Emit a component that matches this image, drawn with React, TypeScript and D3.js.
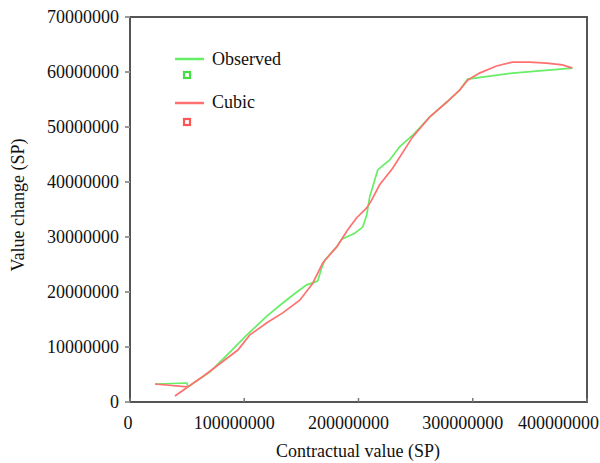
import React from "react";
import * as d3 from "d3";

const W = 600;
const H = 463;

// Observed series (data order)
const observedX = [21.9, 49.8, 50.7, 69.9, 89.2, 102.3, 119.8, 133.7, 146.0, 154.7, 164.3, 167.8, 170.5, 180.9, 185.3, 196.7, 203.7, 207.2, 209.8, 212.4, 216.8, 227.3, 236.0, 247.4, 262.2, 277.1, 288.5, 295.5, 334.8, 387.2].map((v) => v * 1e6);
const observedY = [3.27, 3.45, 2.73, 5.45, 9.45, 12.2, 15.6, 18.0, 20.0, 21.3, 22.0, 24.4, 25.8, 28.2, 29.6, 30.7, 31.8, 34.0, 37.3, 39.1, 42.2, 44.0, 46.4, 48.5, 51.8, 54.5, 56.7, 58.7, 59.8, 60.7].map((v) => v * 1e6);

// Cubic fit series (data order)
const cubicX = [21.9, 50.7, 39.3, 65.6, 94.4, 104.9, 119.8, 133.7, 148.6, 160.0, 168.7, 180.9, 190.6, 198.4, 207.2, 211.5, 218.5, 229.9, 247.4, 262.2, 277.1, 288.5, 295.5, 305.9, 320.8, 334.8, 349.7, 364.5, 378.5, 387.2].map((v) => v * 1e6);
const cubicY = [3.27, 2.73, 1.09, 4.9, 9.45, 12.2, 14.4, 16.2, 18.5, 21.6, 25.3, 28.2, 31.3, 33.5, 35.3, 36.7, 39.5, 42.5, 48.2, 51.8, 54.5, 56.7, 58.5, 59.8, 61.1, 61.8, 61.8, 61.6, 61.3, 60.7].map((v) => v * 1e6);

const xTicks = [0, 100000000, 200000000, 300000000, 400000000];
const yTicks = [0, 10000000, 20000000, 30000000, 40000000, 50000000, 60000000, 70000000];
const seriesNames = ["Observed", "Cubic"];
const seriesColors = ["#66ee66", "#ff7070"];

const FONT = "Liberation Serif";
const txt = { fontFamily: FONT, fontSize: 18, fill: "#111" } as React.CSSProperties;

export default function App() {
  const left = 130, right = 587, top = 17, bottom = 402;
  const x = d3.scaleLinear().domain([0, 400000000]).range([left, right]);
  const y = d3.scaleLinear().domain([0, 70000000]).range([bottom, top]);
  const line = d3.line<[number, number]>().x((d) => x(d[0])).y((d) => y(d[1]));
  const obs = observedX.map((v, i) => [v, observedY[i]] as [number, number]);
  const cub = cubicX.map((v, i) => [v, cubicY[i]] as [number, number]);

  return (
    <svg width={W} height={H} style={{ position: "absolute", left: 0, top: 0, background: "#fff" }}>
      <rect x={0} y={0} width={W} height={H} fill="#fff" />
      {/* data lines */}
      <path d={line(obs) || ""} fill="none" stroke={seriesColors[0]} strokeWidth={1.7} />
      <path d={line(cub) || ""} fill="none" stroke={seriesColors[1]} strokeWidth={1.7} />
      {/* frame */}
      <rect x={left} y={top} width={right - left} height={bottom - top} fill="none" stroke="#555" strokeWidth={2} />
      {/* y ticks */}
      {yTicks.map((t) => (
        <g key={"y" + t}>
          <line x1={left - 5} x2={left} y1={y(t)} y2={y(t)} stroke="#999" strokeWidth={2} />
          <text x={119} y={y(t) + 6} textAnchor="end" style={txt}>{t}</text>
        </g>
      ))}
      {/* x ticks */}
      {xTicks.map((t, i) => (
        <g key={"x" + t}>
          <line x1={x(t)} x2={x(t)} y1={bottom} y2={bottom - 4} stroke="#777" strokeWidth={1.5} />
          <text
            x={i === xTicks.length - 1 ? 599 : x(t) - (i === 0 ? 2 : 10)}
            y={429}
            textAnchor={i === xTicks.length - 1 ? "end" : "middle"}
            style={txt}
          >
            {t}
          </text>
        </g>
      ))}
      {/* axis titles */}
      <text x={358} y={457} textAnchor="middle" style={txt}>Contractual value (SP)</text>
      <text transform={`translate(24,205) rotate(-90)`} textAnchor="middle" style={txt}>Value change (SP)</text>
      {/* legend */}
      {seriesNames.map((n, i) => (
        <g key={n}>
          <line x1={175} x2={204} y1={59 + i * 44} y2={59 + i * 44} stroke={seriesColors[i]} strokeWidth={2.5} />
          <text x={212} y={65 + i * 43} style={txt}>{n}</text>
          <rect x={184} y={72 + i * 47} width={6} height={6} fill="#fff" stroke={i === 0 ? "#44dd44" : "#ff5555"} strokeWidth={2.2} />
        </g>
      ))}
    </svg>
  );
}
